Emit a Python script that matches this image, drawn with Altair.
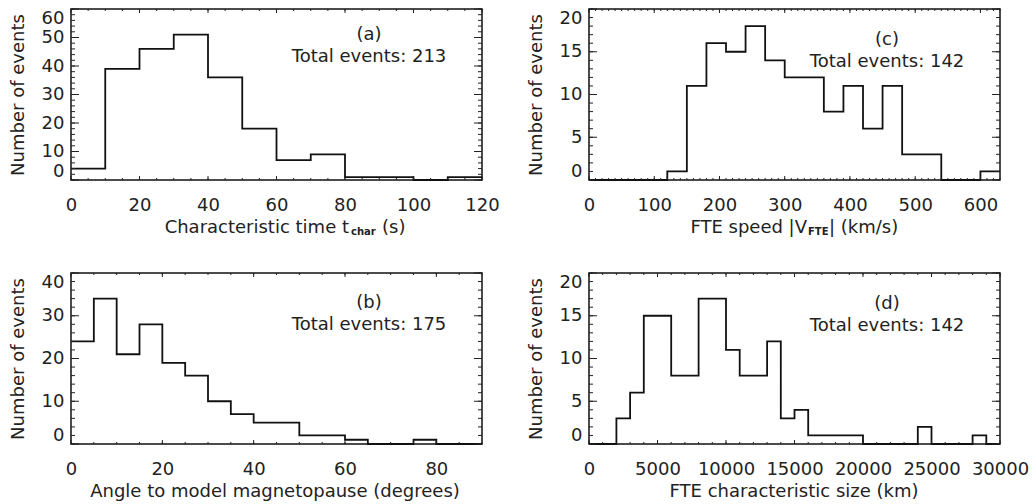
import altair as alt
import pandas as pd

FONT = "DejaVu Sans"
INK = "#222222"
W, H = 411, 171

# ---------------- data ----------------
# (a) characteristic time, 10 s bins
a_edges = [0, 10, 20, 30, 40, 50, 60, 70, 80, 90, 100, 110]
a_counts = [4, 39, 46, 51, 36, 18, 7, 9, 1, 1, 0, 1]
a_end = 120
a_xticks = [0, 20, 40, 60, 80, 100, 120]
a_yticks = [0, 10, 20, 30, 40, 50, 60]

# (c) FTE speed, 30 km/s bins
c_edges = [0, 120, 150, 180, 210, 240, 270, 300, 330, 360, 390, 420, 450, 480, 510, 540, 600]
c_counts = [0, 1, 11, 16, 15, 18, 14, 12, 12, 8, 11, 6, 11, 3, 3, 0, 1]
c_end = 630
c_xticks = [0, 100, 200, 300, 400, 500, 600]
c_yticks = [0, 5, 10, 15, 20]

# (b) angle to model magnetopause, 5 degree bins
b_edges = [0, 5, 10, 15, 20, 25, 30, 35, 40, 45, 50, 55, 60, 65, 75, 80]
b_counts = [24, 34, 21, 28, 19, 16, 10, 7, 5, 5, 2, 2, 1, 0, 1, 0]
b_end = 90
b_xticks = [0, 20, 40, 60, 80]
b_yticks = [0, 10, 20, 30, 40]

# (d) FTE characteristic size, 1000 km bins
d_edges = [0, 2000, 3000, 4000, 5000, 6000, 7000, 8000, 9000, 10000, 11000, 12000,
           13000, 14000, 15000, 16000, 17000, 18000, 19000, 20000, 24000, 25000, 28000, 29000]
d_counts = [0, 3, 6, 15, 15, 8, 8, 17, 17, 11, 8, 8,
            12, 3, 4, 1, 1, 1, 1, 0, 2, 0, 1, 0]
d_end = 30000
d_xticks = [0, 5000, 10000, 15000, 20000, 25000, 30000]
d_yticks = [0, 5, 10, 15, 20]


def frange(stop, step):
    out, v = [], 0
    while v <= stop + 1e-9:
        out.append(v)
        v += step
    return out


def txt(s, x, y, size=18, align="center", weight="normal"):
    return alt.Chart(pd.DataFrame({"t": [s]})).mark_text(
        font=FONT, fontSize=size, color=INK, align=align, baseline="middle",
        fontWeight=weight
    ).encode(x=alt.value(x), y=alt.value(y), text="t:N")


def panel(edges, counts, end, xmax, ymax, xmajor, xminor, ymajor, yminor,
          letter, total, letter_y, title_layers):
    xs = alt.Scale(domain=[0, xmax], nice=False, zero=False)
    ys = alt.Scale(domain=[0, ymax], nice=False, zero=False)
    xaxis = alt.Axis(
        values=xmajor, ticks=False, domain=False, grid=False, title=None,
        labelFlush=False, labelOverlap=False, labelPadding=16, format="d",
        labelFont=FONT, labelFontSize=18, labelColor=INK)
    yaxis = alt.Axis(
        values=ymajor, ticks=False, domain=False, grid=False,
        title="Number of events", titleFont=FONT, titleFontSize=18,
        titleFontWeight="normal", titleColor=INK, titlePadding=14,
        labelFlush=True, labelOverlap=False, labelPadding=7, format="d",
        labelFont=FONT, labelFontSize=18, labelColor=INK)
    df = pd.DataFrame({"x": edges + [end], "y": counts + [counts[-1]]})
    line = alt.Chart(df).mark_line(
        interpolate="step-after", color="#111111", strokeWidth=1.8
    ).encode(
        x=alt.X("x:Q", scale=xs, axis=xaxis),
        y=alt.Y("y:Q", scale=ys, axis=yaxis),
    )
    layers = [line]
    xmaj = pd.DataFrame({"x": [v for v in xmajor if v <= xmax]})
    xmin = pd.DataFrame({"x": frange(xmax, xminor)})
    ymaj = pd.DataFrame({"y": ymajor})
    ymin = pd.DataFrame({"y": frange(ymax, yminor)})
    for d, L in ((xmin, 2), (xmaj, 4)):
        for y0, y1 in ((H, H - L), (0, L)):
            layers.append(alt.Chart(d).mark_rule(color=INK, strokeWidth=1).encode(
                x=alt.X("x:Q", scale=xs, axis=xaxis),
                y=alt.value(y0), y2=alt.value(y1)))
    for d, L in ((ymin, 4), (ymaj, 8)):
        for x0, x1 in ((0, L), (W, W - L)):
            layers.append(alt.Chart(d).mark_rule(color=INK, strokeWidth=1).encode(
                y=alt.Y("y:Q", scale=ys, axis=yaxis),
                x=alt.value(x0), x2=alt.value(x1)))
    layers.append(txt(letter, 298, letter_y))
    layers.append(txt(total, 298, letter_y + 22))
    layers.extend(title_layers)
    return alt.layer(*layers).properties(width=W, height=H)


TY = H + 48
pa = panel(a_edges, a_counts, a_end, 120, 60, a_xticks, 5, a_yticks, 2,
           "(a)", "Total events: 213", 26,
           [txt("Characteristic time t", 278, TY, align="right"),
            txt("char", 280, TY + 4, size=10, align="left", weight="bold"),
            txt("(s)", 311, TY, align="left")])
pc = panel(c_edges, c_counts, c_end, 630, 20, c_xticks, 10, c_yticks, 1,
           "(c)", "Total events: 142", 31,
           [txt("FTE speed |V", 218, TY, align="right"),
            txt("FTE", 219, TY + 4, size=10, align="left", weight="bold"),
            txt("| (km/s)", 240, TY, align="left")])
pb = panel(b_edges, b_counts, b_end, 90, 40, b_xticks, 5, b_yticks, 2,
           "(b)", "Total events: 175", 30,
           [txt("Angle to model magnetopause (degrees)", 204, TY)])
pdd = panel(d_edges, d_counts, d_end, 30000, 20, d_xticks, 1000, d_yticks, 1,
            "(d)", "Total events: 142", 31,
            [txt("FTE characteristic size (km)", 205, TY)])

chart = alt.concat(
    pa, pc, pb, pdd, columns=2, spacing={"row": 93, "column": 107}, bounds="flush"
).configure_view(
    stroke="#111111", strokeWidth=1.5
).properties(
    padding={"left": 8, "top": 7, "right": 5, "bottom": 5},
    background="white"
)

chart.save("out.html", embed_options={"renderer": "svg", "actions": False})
